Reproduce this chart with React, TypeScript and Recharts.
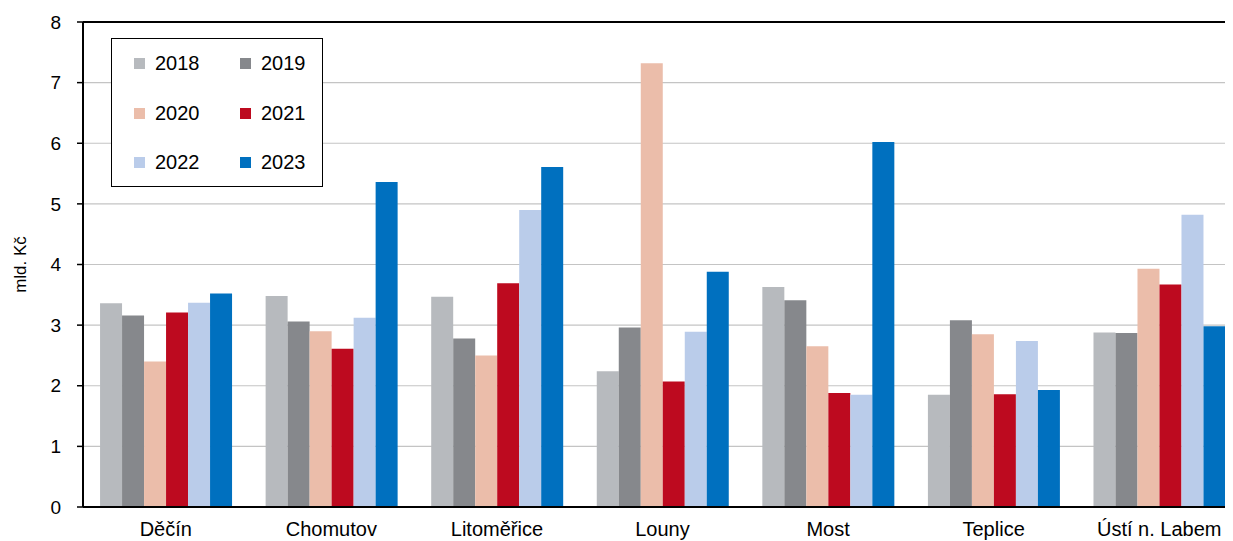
import React from 'react';
import { BarChart, Bar, XAxis, YAxis, CartesianGrid, Legend, ReferenceLine, Label } from 'recharts';

const categories = ['Děčín', 'Chomutov', 'Litoměřice', 'Louny', 'Most', 'Teplice', 'Ústí n. Labem'];
const years = ['2018', '2019', '2020', '2021', '2022', '2023'];
const colors = ['#B7BABE', '#86888C', '#EBBDAA', '#BD0A1F', '#BACCEA', '#0070BF'];

const v2018 = [3.36, 3.48, 3.47, 2.24, 3.63, 1.85, 2.88];
const v2019 = [3.16, 3.06, 2.78, 2.96, 3.41, 3.08, 2.87];
const v2020 = [2.40, 2.90, 2.50, 7.32, 2.65, 2.85, 3.93];
const v2021 = [3.21, 2.61, 3.69, 2.07, 1.88, 1.86, 3.67];
const v2022 = [3.37, 3.12, 4.90, 2.89, 1.85, 2.74, 4.82];
const v2023 = [3.52, 5.36, 5.61, 3.88, 6.02, 1.93, 2.98];

const yTicks = [0, 1, 2, 3, 4, 5, 6, 7, 8];
const boundaryTicks = [0, 1, 2, 3, 4, 5, 6, 7];

const seriesValues = [v2018, v2019, v2020, v2021, v2022, v2023];

const data = categories.map((name, i) => {
  const row: Record<string, string | number> = { name };
  years.forEach((y, k) => {
    row[y] = seriesValues[k][i];
  });
  return row;
});

const FONT = '"Liberation Sans", Arial, sans-serif';

const LegendBox = () => (
  <div
    style={{
      width: 212,
      height: 149,
      border: '1px solid #000',
      boxSizing: 'border-box',
      background: '#fff',
      display: 'grid',
      gridTemplateColumns: '106px 106px',
      gridAutoRows: '49.5px',
      paddingLeft: 22,
      fontFamily: FONT,
      fontSize: 20,
      color: '#000',
    }}
  >
    {years.map((y, i) => (
      <div key={y} style={{ display: 'flex', alignItems: 'center' }}>
        <span style={{ display: 'inline-block', width: 11, height: 11, background: colors[i], marginRight: 10 }} />
        <span>{y}</span>
      </div>
    ))}
  </div>
);

export default function App() {
  return (
    <div style={{ width: 1225, height: 533, overflow: 'hidden', fontFamily: FONT }}>
      <BarChart
        width={1239}
        height={545}
        data={data}
        margin={{ top: 14, right: 5, bottom: 6, left: 0 }}
        barCategoryGap="10.3%"
        barGap={0}
      >
        <CartesianGrid vertical={false} stroke="#C4C4C4" strokeWidth={1.2} />
        <XAxis
          xAxisId="b"
          type="number"
          domain={[0, 7]}
          ticks={boundaryTicks}
          allowDataOverflow
          height={0}
          axisLine={false}
          tick={false}
          tickLine={{ stroke: '#000', strokeWidth: 1.5 }}
          tickSize={6}
        />
        <XAxis
          dataKey="name"
          height={40}
          axisLine={{ stroke: '#000', strokeWidth: 2 }}
          tickLine={false}
          tickSize={6}
          tickMargin={9}
          tick={{ fill: '#000', fontSize: 20, fontFamily: FONT }}
          interval={0}
        />
        <YAxis
          width={75}
          domain={[0, 8]}
          ticks={yTicks}
          axisLine={{ stroke: '#000', strokeWidth: 2 }}
          tickLine={{ stroke: '#000', strokeWidth: 1.5 }}
          tickSize={6}
          tickMargin={16}
          tick={{ fill: '#000', fontSize: 19, fontFamily: FONT }}
        >
          <Label
            content={(props: any) => {
              const vb = props.viewBox || { x: 0, y: 14, width: 75, height: 485 };
              const cx = vb.x + 12;
              const cy = vb.y + vb.height / 2;
              return (
                <text
                  x={cx}
                  y={cy}
                  transform={`rotate(-90 ${cx} ${cy})`}
                  textAnchor="middle"
                  dominantBaseline="central"
                  fontSize={17}
                  fontFamily={FONT}
                  fill="#000"
                >
                  mld. Kč
                </text>
              );
            }}
          />
        </YAxis>
        <ReferenceLine y={8} stroke="#000" strokeWidth={2} />
        <Legend
          layout="vertical"
          align="center"
          verticalAlign="middle"
          wrapperStyle={{ left: 103, top: 30, width: 'auto', height: 'auto' }}
          content={() => <LegendBox />}
        />
        {years.map((y, i) => (
          <Bar key={y} dataKey={y} fill={colors[i]} isAnimationActive={false} />
        ))}
      </BarChart>
    </div>
  );
}
